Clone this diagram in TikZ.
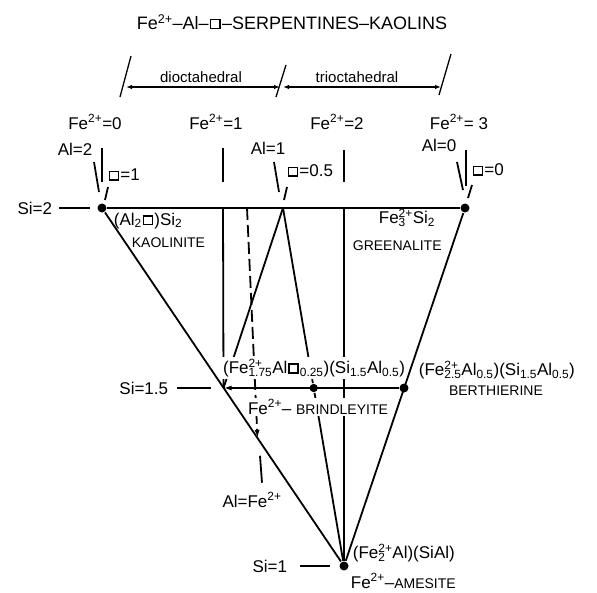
\documentclass[tikz,border=0pt]{standalone}
\usepackage{fontspec}
\setmainfont{Liberation Sans}
\usetikzlibrary{arrows.meta, positioning}

\newcommand\ox[2]{\begingroup\setbox0=\hbox{\textsuperscript{#1}}\setbox2=\hbox{\textsubscript{#2}}\ifdim\wd0>\wd2 \rlap{\box2}\box0\else\rlap{\box0}\box2\fi\endgroup}
\newcommand\vacancy{\kern.06em\raisebox{.09em}{\fboxsep=0pt\fboxrule=.09em\fbox{\rule{0pt}{.42em}\rule{.44em}{0pt}}}\kern.06em}

\begin{document}
\begin{tikzpicture}[x=1pt, y=-1pt, line width=1.8pt,
    lbl/.style={inner sep=0pt, font=\fontsize{17}{19}\selectfont},
    mineral/.style={inner sep=0pt, font=\fontsize{14}{16}\selectfont},
    blank/.style={fill=white, inner sep=1.5pt},
    dot/.style={circle, fill, inner sep=0pt, minimum size=9pt},
    dashedline/.style={dash pattern=on 12pt off 5pt}]

  \useasboundingbox (0,0) rectangle (597,592);

  % title and structure ranges
  \node[inner sep=0pt, font=\fontsize{18}{20}\selectfont] (title) at (292,22)
    {Fe\textsuperscript{2+}--Al--\vacancy--SERPENTINES--KAOLINS};
  \node[inner sep=0pt, font=\fontsize{15}{17}\selectfont] (dioct) at (201,77) {dioctahedral};
  \node[inner sep=0pt, font=\fontsize{15}{17}\selectfont] (trioct) at (357,77) {trioctahedral};
  \coordinate (r0) at (126,87);
  \coordinate (r1) at (280,87);
  \coordinate (r2) at (283,87);
  \coordinate (r3) at (441,87);
  \draw[line width=1.3pt, {Latex[length=6pt,width=4.5pt]}-{Latex[length=6pt,width=4.5pt]}] (r0) -- (r1);
  \draw[line width=1.3pt, {Latex[length=6pt,width=4.5pt]}-{Latex[length=6pt,width=4.5pt]}] (r2) -- (r3);
  \draw[line width=1.3pt] (120,97) -- (131,56);
  \draw[line width=1.3pt] (276,97) -- (286,65);
  \draw[line width=1.3pt] (439,95) -- (451,54);

  % compositional axes
  \node[lbl] (fe0) at (95,122) {Fe\textsuperscript{2+}=0};
  \node[lbl] (fe1) at (216,122) {Fe\textsuperscript{2+}=1};
  \node[lbl] (fe2) at (337,122) {Fe\textsuperscript{2+}=2};
  \node[lbl] (fe3) at (459,122) {Fe\textsuperscript{2+}= 3};
  \node[lbl] (al2) at (75,149) {Al=2};
  \node[lbl] (al1) at (268,148) {Al=1};
  \node[lbl] (al0) at (439,145) {Al=0};
  \node[lbl, anchor=west] (v1) at (107,175) {\vacancy=1};
  \node[lbl, anchor=west] (v05) at (286,171) {\vacancy=0.5};
  \node[lbl, anchor=west] (v0) at (471,170) {\vacancy=0};

  \draw (102,148) -- (102,182);
  \draw (94,162) -- (99,192);
  \draw (108,187) -- (105,200);
  \draw (223,148) -- (223,182);
  \draw (274,162) -- (279,192);
  \draw (287,187) -- (284,200);
  \draw (344,150) -- (344,182);
  \draw (466,150) -- (466,186);
  \draw (457,162) -- (463,190);
  \draw (472,185) -- (468,198);

  % end members and join lines
  \node[dot] (K) at (102,208) {};
  \node[dot] (G) at (465,208) {};
  \node[dot] (A) at (344,566) {};
  \node[dot] (B) at (404,388) {};
  \node[dot, minimum size=8pt] (Br) at (313.7,388) {};
  \coordinate (F1) at (223,208);
  \coordinate (F2) at (344,208);
  \coordinate (A1) at (283,208);
  \coordinate (D) at (247,208);
  \coordinate (L) at (223.5,388);
  \coordinate (Dend) at (257.5,438);

  \draw (K) -- (G);
  \draw (K) -- (A);
  \draw (G) -- (A);
  \draw (F1) -- (L);
  \draw (A1) -- (L);
  \draw (A1) -- (Br) -- (A);
  \draw (F2) -- (A);
  \draw[dashedline, -{Latex[length=8pt,width=5pt]}] (D) -- (Dend);
  \draw[{Latex[length=8pt,width=5pt]}-] (L) -- (B);

  \node[lbl, anchor=east] (si2) at (53,208) {Si=2};
  \node[lbl, anchor=east] (si15) at (169,388) {Si=1.5};
  \node[lbl, anchor=east] (si1) at (288,566) {Si=1};
  \draw ([xshift=6pt]si2.east) -- ([xshift=-7pt]K.west);
  \draw ([xshift=8pt]si15.east) -- ([xshift=-13pt]L);
  \draw ([xshift=12pt]si1.east) -- ([xshift=-9pt]A.west);

  % labels
  \node[lbl, anchor=west] (kaof) at (113,221) {(Al\textsubscript{2}\vacancy)Si\textsubscript{2}};
  \node[mineral, anchor=west] (kao) at (131,243) {KAOLINITE};
  \node[lbl, anchor=west] (gref) at (378,218) {Fe\ox{2+}{3}Si\textsubscript{2}};
  \node[mineral, anchor=west] (gre) at (352,246) {GREENALITE};
  \node[lbl, blank] (brif) at (314,368)
    {(Fe\ox{2+}{1.75}Al\vacancy\textsubscript{0.25})(Si\textsubscript{1.5}Al\textsubscript{0.5})};
  \node[lbl, blank] (bri) at (318,407) {Fe\textsuperscript{2+}-- {\fontsize{14}{16}\selectfont BRINDLEYITE}};
  \node[lbl, anchor=west] (berf) at (418,370)
    {(Fe\ox{2+}{2.5}Al\textsubscript{0.5})(Si\textsubscript{1.5}Al\textsubscript{0.5})};
  \node[mineral] (ber) at (496,391) {BERTHIERINE};
  \node[lbl, anchor=west] (amef) at (352,553) {(Fe\ox{2+}{2}Al)(SiAl)};
  \node[lbl, anchor=base west] (ame) at (350,588) {Fe\textsuperscript{2+}--{\fontsize{14}{16}\selectfont AMESITE}};
  \node[lbl] (alfe) at (252,500) {Al=Fe\textsuperscript{2+}};
  \draw ([shift={(8pt,36pt)}]alfe.north) -- ([shift={(10pt,9pt)}]alfe.north);

  \node[dot, minimum size=8pt] at (Br) {};
\end{tikzpicture}
\end{document}
